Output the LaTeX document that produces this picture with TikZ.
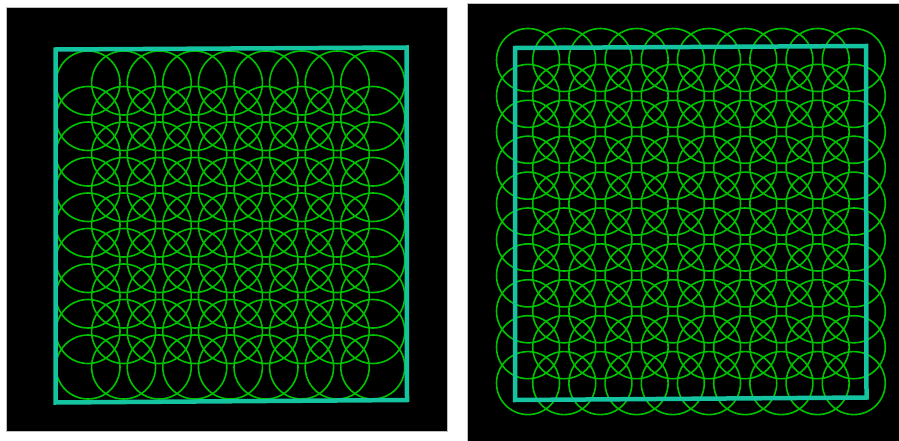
\documentclass[tikz,border=0pt]{standalone}
\usetikzlibrary{calc}
\definecolor{edgecyan}{RGB}{20,196,160}
\definecolor{ringgreen}{RGB}{0,195,0}
\tikzset{
  panel/.style={fill=black, draw=black!25, line width=0.6pt},
  sqframe/.style={draw=edgecyan, line width=4.5pt, line join=miter},
  ring/.style={draw=ringgreen, line width=1.6pt},
}
\begin{document}
\begin{tikzpicture}[x=1pt, y=-1pt]
  \useasboundingbox[fill=white] (0,0) rectangle (899,441);

  % Left: 9 x 9 circles kept inside the square
  \draw[panel] (6,7) rectangle (447,431);
  \foreach \i in {0,...,8}
    \foreach \j in {0,...,8}
      \draw[ring] ({88+35.6*\i},{83+35.5*\j}) circle[radius=32];
  \draw[sqframe] (55.5,49.5) -- (406.5,47.5) -- (407,400) -- (55.5,402.5) -- cycle;

  % Right: 10 x 10 circles running over the square
  \draw[panel] (467,3) rectangle (899.5,441.5);
  \foreach \i in {0,...,9}
    \foreach \j in {0,...,9}
      \draw[ring] ({528+36.2*\i},{60+35.9*\j}) circle[radius=31.5];
  \draw[sqframe] (515,48) -- (866,46) -- (866.5,397.5) -- (515,400) -- cycle;
\end{tikzpicture}
\end{document}
